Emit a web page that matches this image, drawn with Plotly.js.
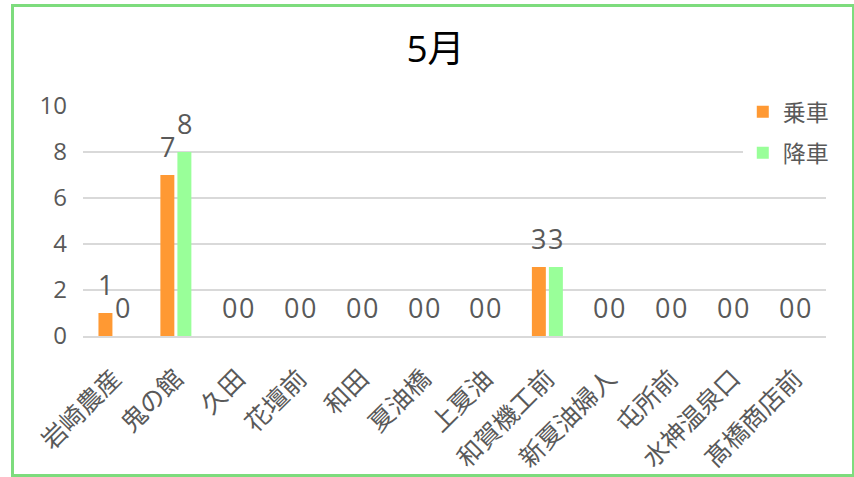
<!DOCTYPE html>
<html>
<head>
<meta charset="utf-8">
<script src="https://cdn.plot.ly/plotly-3.0.1.min.js"></script>
<style>
html,body{margin:0;padding:0;background:#fff;}
#wrap{position:relative;width:854px;height:477px;}
#chart{position:absolute;left:0;top:0;width:854px;height:477px;}
#frame{position:absolute;left:11px;top:4px;width:838px;height:467px;border:3px solid #7ddc7d;pointer-events:none;}
</style>
</head>
<body>
<div id="wrap"><div id="chart"></div><div id="frame"></div></div>
<script>
const categories = ["岩崎農産","鬼の館","久田","花壇前","和田","夏油橋","上夏油","和賀機工前","新夏油婦人","屯所前","水神温泉口","髙橋商店前"];
const boarding = [1,7,0,0,0,0,0,3,0,0,0,0];
const alighting = [0,8,0,0,0,0,0,3,0,0,0,0];
const seriesNames = ["乗車","降車"];
const titleText = "5月";

const font = "'Open Sans', 'Noto Sans CJK JP', sans-serif";
const common = {
  type: 'bar',
  x: categories,
  hoverinfo: 'none'
};
const traces = [
  Object.assign({}, common, {name: seriesNames[0], legendgroup: 'a', y: boarding, marker: {color: '#ff9933'}}),
  Object.assign({}, common, {name: seriesNames[1], legendgroup: 'b', y: alighting, marker: {color: '#99ff99'}})
];
// value labels, one per bar, from the data arrays
const labelFont = {family: font, size: 27, color: '#595959'};
const annotations = [];
[[boarding, -8.5], [alighting, 8.5]].forEach(([vals, dx]) => {
  vals.forEach((v, i) => annotations.push({
    x: categories[i], y: v, xref: 'x', yref: 'y', text: String(v),
    showarrow: false, xshift: dx, yshift: 9, yanchor: 'bottom', xanchor: 'center',
    borderpad: 0, font: labelFont
  }));
});
const layout = {
  width: 854, height: 477,
  margin: {l: 83, r: 28, t: 106, b: 141},
  paper_bgcolor: '#fff', plot_bgcolor: '#fff',
  font: {family: font, color: '#595959'},
  title: {text: titleText, font: {family: font, size: 37, color: '#000'}, x: 0.51, xanchor: 'center', y: 0.897, yref: 'container', yanchor: 'middle'},
  barmode: 'group', bargap: 0.45, bargroupgap: 0.18,
  showlegend: true,
  legend: {x: 0.888, xanchor: 'left', y: 1.068, yanchor: 'top', bgcolor: 'rgba(255,255,255,1)', font: {family: font, size: 23, color: '#595959'}, itemwidth: 30, tracegroupgap: 8},
  annotations: annotations,
  xaxis: {tickangle: -45, tickfont: {family: font, size: 25, color: '#595959'}, ticklabelstandoff: 16, showline: true, linecolor: '#d9d9d9', linewidth: 2, ticks: '', showgrid: false, fixedrange: true},
  yaxis: {range: [0, 10], dtick: 2, tickfont: {family: font, size: 24, color: '#595959'}, gridcolor: '#d9d9d9', gridwidth: 2, zeroline: false, showline: false, ticks: '', ticklabelstandoff: 15, fixedrange: true}
};
Plotly.newPlot('chart', traces, layout, {displayModeBar: false, staticPlot: true});
</script>
</body>
</html>
